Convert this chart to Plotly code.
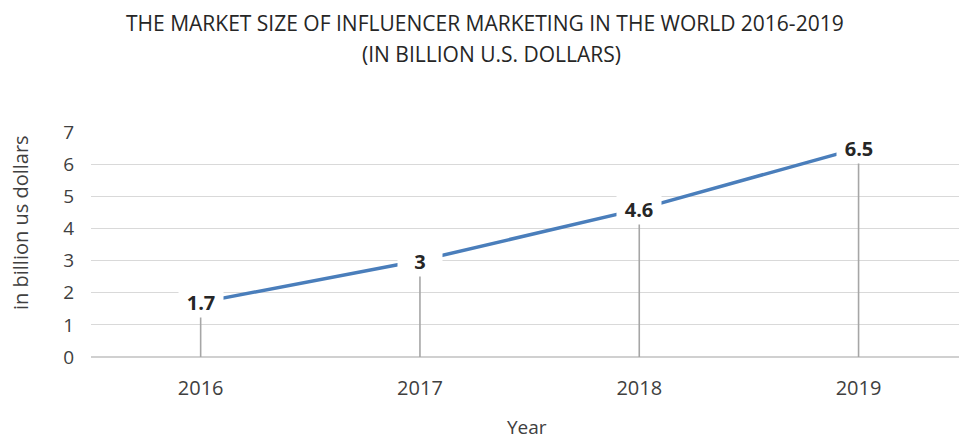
import plotly.graph_objects as go

years = ["2016", "2017", "2018", "2019"]
market_size = [1.7, 3, 4.6, 6.5]
label_text = ["1.7", "3", "4.6", "6.5"]
y_ticks = [0, 1, 2, 3, 4, 5, 6, 7]

title_line1 = "THE MARKET SIZE OF INFLUENCER MARKETING IN THE WORLD 2016-2019"
title_line2 = "(IN BILLION U.S. DOLLARS)"
x_title = "Year"
y_title = "in billion us dollars"

FONT = "Open Sans"
TXT = "#404040"

x_pos = list(range(len(years)))

# plot area in pixels
PL, PT, PW, PH = 91, 132, 868, 225
FIG_W, FIG_H = 959, 441

def px(xs):
    return (xs - PL) / PW

def py(ys):
    return (PT + PH - ys) / PH

fig = go.Figure()
fig.add_trace(go.Scatter(
    x=x_pos, y=market_size, mode="lines",
    line=dict(color="#4A7EBB", width=3.5),
    error_y=dict(type="data", symmetric=False, array=[0] * len(market_size),
                 arrayminus=market_size, color="#A6A6A6", thickness=1.6, width=0),
    hoverinfo="skip", showlegend=False,
))

for x, y, t in zip(x_pos, market_size, label_text):
    fig.add_annotation(
        x=x, y=y, xref="x", yref="y", text=f"<b>{t}</b>", showarrow=False,
        font=dict(family=FONT, size=20, color="#262626"),
        bgcolor="white", borderpad=3, width=38, height=24,
    )

# title (two lines)
fig.add_annotation(x=px(485), xref="paper", y=py(23), yref="paper",
                   text=title_line1, showarrow=False, xanchor="center", yanchor="middle",
                   font=dict(family=FONT, size=21, color="#262626"))
fig.add_annotation(x=px(491), xref="paper", y=py(54), yref="paper",
                   text=title_line2, showarrow=False, xanchor="center", yanchor="middle",
                   font=dict(family=FONT, size=21, color="#262626"))
# axis titles
fig.add_annotation(x=px(20), xref="paper", y=py(223), yref="paper",
                   text=y_title, textangle=-90, showarrow=False, xanchor="center", yanchor="middle",
                   font=dict(family=FONT, size=20, color=TXT))
fig.add_annotation(x=px(527), xref="paper", y=py(427), yref="paper",
                   text=x_title, showarrow=False, xanchor="center", yanchor="middle",
                   font=dict(family=FONT, size=19, color=TXT))

fig.update_layout(
    width=FIG_W, height=FIG_H,
    margin=dict(l=PL, r=FIG_W - (PL + PW), t=PT, b=FIG_H - (PT + PH), autoexpand=False),
    paper_bgcolor="white", plot_bgcolor="white",
    font=dict(family=FONT),
)
fig.update_xaxes(
    range=[-0.5, 3.458], tickvals=x_pos, ticktext=years, showgrid=False, zeroline=False,
    showline=False, ticks="outside", ticklen=13, tickcolor="rgba(0,0,0,0)", automargin=False,
    tickfont=dict(family=FONT, size=20, color=TXT),
)
fig.update_yaxes(
    range=[0, 7], tickvals=y_ticks, showgrid=True, gridcolor="#D9D9D9", gridwidth=1.3,
    zeroline=True, zerolinecolor="#D0D0D0", zerolinewidth=1.5, showline=False, ticks="",
    ticklabelstandoff=16, automargin=False,
    tickfont=dict(family=FONT, size=19, color=TXT),
)

fig.write_html(
    "out.html",
    config={"displayModeBar": False},
    post_script="document.body.style.margin='0';document.body.style.overflow='hidden';",
)
